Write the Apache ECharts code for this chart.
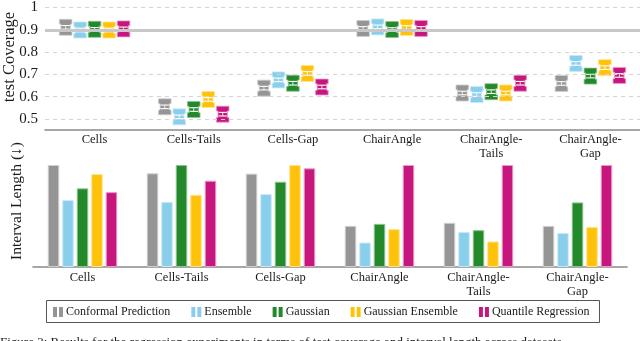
<!DOCTYPE html>
<html>
<head>
<meta charset="utf-8">
<script src="https://cdn.jsdelivr.net/npm/echarts@6/dist/echarts.min.js"></script>
<style>
html,body{margin:0;padding:0;background:#fff;}
#chart{width:640px;height:341px;}
</style>
</head>
<body>
<div id="chart"></div>
<script>
const categories = ['Cells', 'Cells-Tails', 'Cells-Gap', 'ChairAngle', 'ChairAngle-Tails', 'ChairAngle-Gap'];
const models = ['Conformal Prediction', 'Ensemble', 'Gaussian', 'Gaussian Ensemble', 'Quantile Regression'];
const coverageTicks = [0.5, 0.6, 0.7, 0.8, 0.9, 1];
const targetCoverage = 0.9;

// test coverage (box centres)
const covCP    = [0.911, 0.554, 0.638, 0.906, 0.616, 0.659];
const covEns   = [0.899, 0.509, 0.675, 0.913, 0.609, 0.749];
const covGauss = [0.902, 0.542, 0.660, 0.901, 0.622, 0.692];
const covGE    = [0.899, 0.587, 0.704, 0.910, 0.616, 0.730];
const covQR    = [0.904, 0.521, 0.643, 0.906, 0.660, 0.695];

// interval length (relative, per dataset)
const lenCP    = [1.000, 0.918, 0.915, 0.403, 0.433, 0.403];
const lenEns   = [0.656, 0.639, 0.715, 0.240, 0.344, 0.334];
const lenGauss = [0.771, 1.000, 0.836, 0.423, 0.361, 0.633];
const lenGE    = [0.912, 0.708, 1.000, 0.371, 0.250, 0.393];
const lenQR    = [0.734, 0.846, 0.967, 1.000, 1.000, 1.000];

const coverage = [covCP, covEns, covGauss, covGE, covQR];
const lengths = [lenCP, lenEns, lenGauss, lenGE, lenQR];
const colors = ['#959595', '#89CFEB', '#23892B', '#FFC20A', '#C8167F'];
const edges  = ['#cfcfcf', '#c9e9f6', '#8cc391', '#ffe38a', '#e89ac6'];

const FONT = 'Liberation Serif';
const TXT = '#1a1a1a';

function catLabel(v) {
  return v.indexOf('ChairAngle-') === 0 ? 'ChairAngle-\n' + v.slice(11) : v;
}

function makeBox(i) {
  return function (params, api) {
    const c = api.coord([api.value(0), api.value(1)]);
    const band = api.size([1, 0])[0];
    const step = band * 0.146;
    const w = band * 0.127;
    const x = c[0] + (i - 2) * step;
    const y = c[1];
    const h = 8, ny = 3.2, n = 1.6;
    const l = x - w / 2, r = x + w / 2;
    const pts = [[l, y - h], [r, y - h], [r, y - ny], [r - n, y - ny], [r - n, y + ny], [r, y + ny],
                 [r, y + h], [l, y + h], [l, y + ny], [l + n, y + ny], [l + n, y - ny], [l, y - ny]];
    const wl = { stroke: '#ffffff', lineWidth: 1.1 };
    return {
      type: 'group',
      children: [
        { type: 'polygon', shape: { points: pts }, style: { fill: colors[i], stroke: edges[i], lineWidth: 0.8 } },
        { type: 'line', shape: { x1: l + n + 0.5, y1: y - 1.8, x2: r - n - 0.5, y2: y - 1.8 }, style: wl },
        { type: 'line', shape: { x1: l + n + 0.5, y1: y + 1.8, x2: r - n - 0.5, y2: y + 1.8 }, style: wl },
        { type: 'line', shape: { x1: x, y1: y - 1.8, x2: x, y2: y + 1.8 }, style: { stroke: '#ffffff', lineWidth: 0.8 } }
      ]
    };
  };
}

const series = [];
// grid lines for coverage panel
series.push({
  type: 'line', xAxisIndex: 0, yAxisIndex: 0, data: [], silent: true, z: 1,
  markLine: {
    silent: true, symbol: 'none', label: { show: false }, animation: false,
    data: coverageTicks.map(v => ({
      yAxis: v,
      lineStyle: v === targetCoverage
        ? { color: '#c8c8c8', width: 3.2, type: 'solid' }
        : { color: '#d4d4d4', width: 1, type: [4, 4] }
    }))
  }
});
models.forEach((m, i) => {
  series.push({
    name: m, type: 'custom', xAxisIndex: 0, yAxisIndex: 0, z: 3,
    itemStyle: { color: colors[i] },
    renderItem: makeBox(i),
    encode: { x: 0, y: 1 },
    data: coverage[i].map((v, k) => [k, v]),
    animation: false
  });
});
models.forEach((m, i) => {
  series.push({
    name: m, type: 'bar', xAxisIndex: 1, yAxisIndex: 1,
    barWidth: 11.5, barGap: '26%',
    itemStyle: { color: colors[i], borderColor: edges[i], borderWidth: 1 },
    data: lengths[i],
    animation: false
  });
});

const chart = echarts.init(document.getElementById('chart'));
chart.setOption({
  animation: false,
  backgroundColor: '#ffffff',
  grid: [
    { left: 45, right: 0, top: 5, height: 125 },
    { left: 33, right: 13, top: 165, height: 102 }
  ],
  xAxis: [
    {
      type: 'category', gridIndex: 0, data: categories,
      axisLine: { lineStyle: { color: '#8a8a8a', width: 1.6 } },
      axisTick: { show: false },
      axisLabel: { formatter: catLabel, fontFamily: FONT, fontSize: 12.5, color: TXT, margin: 3, lineHeight: 13.5, interval: 0 }
    },
    {
      type: 'category', gridIndex: 1, data: categories,
      axisLine: { lineStyle: { color: '#8a8a8a', width: 1.6 } },
      axisTick: { show: false },
      axisLabel: { formatter: catLabel, fontFamily: FONT, fontSize: 12.5, color: TXT, margin: 4, lineHeight: 13.5, interval: 0 }
    }
  ],
  yAxis: [
    {
      type: 'value', gridIndex: 0, min: 0.45, max: 1.0,
      axisLine: { show: false }, axisTick: { show: false }, splitLine: { show: false },
      axisLabel: {
        customValues: coverageTicks,
        formatter: v => String(v),
        fontFamily: FONT, fontSize: 15, color: TXT, margin: 7
      }
    },
    {
      type: 'value', gridIndex: 1, min: 0, max: 1,
      axisLine: { show: false }, axisTick: { show: false }, splitLine: { show: false },
      axisLabel: { show: false }
    }
  ],
  legend: {
    data: models,
    left: 53, top: 306,
    padding: 0,
    itemWidth: 10, itemHeight: 10, itemGap: 21,
    icon: 'path://M0,0H4V10H0Z M6,0H10V10H6Z',
    textStyle: { fontFamily: FONT, fontSize: 12, color: TXT, padding: [0, 0, 0, -2] },
    selectedMode: false
  },
  graphic: [
    { type: 'rect', shape: { x: 46.5, y: 300.5, width: 553, height: 22 },
      style: { fill: 'none', stroke: '#555', lineWidth: 1 }, z: 0, silent: true },
    { type: 'text', x: 10, y: 57, rotation: Math.PI / 2,
      style: { text: 'test Coverage', font: '16.5px "Liberation Serif"', fill: TXT, textAlign: 'center', textVerticalAlign: 'middle' } },
    { type: 'text', x: 17, y: 201, rotation: Math.PI / 2,
      style: { text: 'Interval Length (\u2193)', font: '15.5px "Liberation Serif"', fill: TXT, textAlign: 'center', textVerticalAlign: 'middle' } },
    { type: 'text', x: 0, y: 336,
      style: { text: 'Figure 3: Results for the regression experiments in terms of test coverage and interval length across datasets.', font: '13px "Liberation Serif"', fill: TXT, textAlign: 'left', textVerticalAlign: 'top' } }
  ],
  series: series
});
</script>
</body>
</html>
